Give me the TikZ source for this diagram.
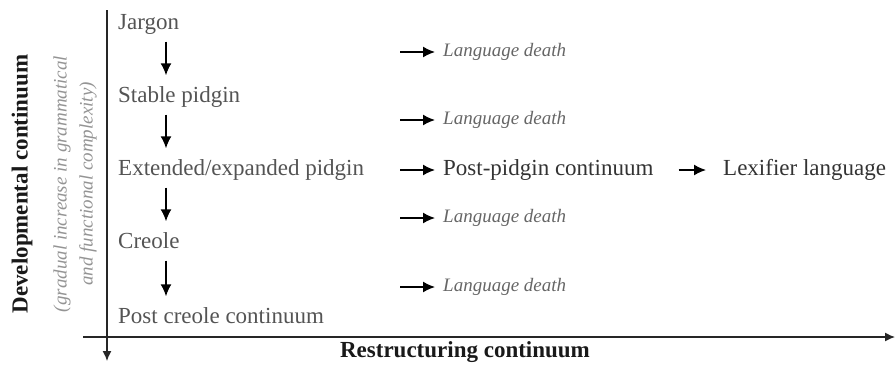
\documentclass[tikz,border=0pt]{standalone}
\usepackage{fontspec}
\setmainfont{Liberation Serif}
\usetikzlibrary{arrows.meta,calc}
\definecolor{labgray}{gray}{0.33}
\definecolor{deathgray}{gray}{0.40}
\definecolor{subgray}{gray}{0.58}
\begin{document}
\begin{tikzpicture}[x=1pt,y=-1pt,
  stage/.style={anchor=west,inner sep=0pt,text=labgray,font=\fontsize{23}{26}\selectfont,text height=16pt,text depth=5pt},
  death/.style={anchor=west,inner sep=0pt,text=deathgray,font=\fontsize{19}{22}\selectfont\itshape,text height=13pt,text depth=4pt},
  outcome/.style={anchor=west,inner sep=0pt,text=black!80,font=\fontsize{23}{26}\selectfont,text height=16pt,text depth=5pt},
  arr/.style={-{Latex[length=12pt,width=11pt]},line width=1.5pt,black},
  axis/.style={-{Latex[length=10pt,width=9pt]},line width=1.3pt,black!85},
  axlab/.style={inner sep=0pt,font=\fontsize{23}{26}\selectfont\bfseries,text=black!90},
  sublab/.style={inner sep=0pt,align=center,text=subgray,font=\fontsize{19}{26}\selectfont\itshape}]
\useasboundingbox (0,0) rectangle (895,365);
% axes
\coordinate (vtop) at (107,10);
\coordinate (vbot) at (107,361);
\coordinate (hl) at (83,337);
\coordinate (hr) at (895,337);
\draw[axis] (vtop) -- (vbot);
\draw[axis] (hl) -- (hr);
% axis labels
\node[axlab,rotate=90] (ylab) at (22,184) {Developmental continuum};
\node[sublab,rotate=90] (ysub) at (75,184) {(gradual increase in grammatical\\and functional complexity)};
\node[axlab] (xlab) at (465,352) {Restructuring continuum};
% stages
\node[stage] (jar) at (118,24) {Jargon};
\node[stage] (sta) at (118,97) {Stable pidgin};
\node[stage] (ext) at (118,170) {Extended/expanded pidgin};
\node[stage] (cre) at (118,243) {Creole};
\node[stage] (pcc) at (118,318) {Post creole continuum};
\draw[arr,shorten <=7pt,shorten >=11pt] ([xshift=48pt]jar.south west) -- ([xshift=48pt]sta.north west);
\draw[arr,shorten <=7pt,shorten >=11pt] ([xshift=48pt]sta.south west) -- ([xshift=48pt]ext.north west);
\draw[arr,shorten <=7pt,shorten >=11pt] ([xshift=48pt]ext.south west) -- ([xshift=48pt]cre.north west);
\draw[arr,shorten <=7pt,shorten >=11pt] ([xshift=48pt]cre.south west) -- ([xshift=48pt]pcc.north west);
% outcomes
\node[death] (d1) at (443,52) {Language death};
\node[death] (d2) at (443,120) {Language death};
\node[outcome] (ppc) at (443,170) {Post-pidgin continuum};
\node[death] (d3) at (443,218) {Language death};
\node[death] (d4) at (443,287) {Language death};
\node[outcome] (lex) at (723,170) {Lexifier language};
\coordinate (a1) at (400,52);
\coordinate (a2) at (400,120);
\coordinate (a3) at (400,170);
\coordinate (a4) at (400,218);
\coordinate (a5) at (400,287);
\draw[arr,shorten >=8pt] (a1) -- (d1.west);
\draw[arr,shorten >=8pt] (a2) -- (d2.west);
\draw[arr,shorten >=8pt] (a3) -- (ppc.west);
\draw[arr,shorten >=8pt] (a4) -- (d3.west);
\draw[arr,shorten >=8pt] (a5) -- (d4.west);
\draw[arr,shorten <=25pt,shorten >=17pt] (ppc.east) -- (lex.west);
\end{tikzpicture}
\end{document}
